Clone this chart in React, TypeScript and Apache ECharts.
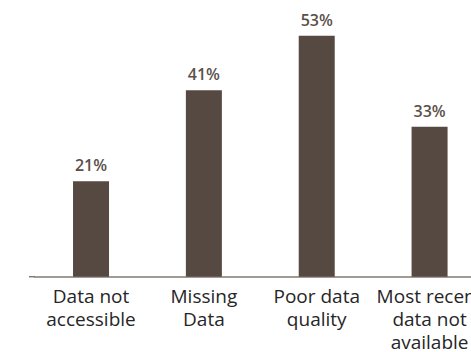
import React, { useEffect, useRef } from "react";
import * as echarts from "echarts";

const categories = [
  "Data not\naccessible",
  "Missing\nData",
  "Poor data\nquality",
  "Most recent\ndata not\navailable",
];
const shares = [21, 41, 53, 33];

const BAR_COLOR = "#564941";
const LABEL_COLOR = "#5b5049";
const AXIS_COLOR = "#857a73";
const FONT = "'Open Sans', 'Noto Sans', sans-serif";

export default function App() {
  const ref = useRef<HTMLDivElement>(null);

  useEffect(() => {
    if (!ref.current) return;
    const chart = echarts.init(ref.current, null, { renderer: "svg" });
    chart.setOption({
      animation: false,
      grid: {
        left: 34.6,
        width: 451.4,
        top: 4,
        height: 272.7,
        containLabel: false,
        outerBoundsMode: "none",
      },
      xAxis: {
        type: "category",
        data: categories,
        axisTick: { show: false },
        axisLine: { show: true, lineStyle: { color: AXIS_COLOR, width: 1.5 } },
        axisLabel: {
          interval: 0,
          color: "#262626",
          fontFamily: FONT,
          fontSize: 19,
          lineHeight: 23,
          margin: 8,
          align: "center",
          hideOverlap: false,
        },
      },
      yAxis: {
        type: "value",
        min: 0,
        max: 60,
        show: false,
        splitLine: { show: false },
      },
      graphic: [
        {
          type: "line",
          shape: { x1: 29, y1: 276.7, x2: 35, y2: 276.7 },
          style: { stroke: AXIS_COLOR, lineWidth: 1.5 },
        },
      ],
      series: [
        {
          type: "bar",
          data: shares,
          barWidth: 36,
          itemStyle: { color: BAR_COLOR },
          label: {
            show: true,
            position: "top",
            distance: 8,
            formatter: "{c}%",
            color: LABEL_COLOR,
            fontFamily: FONT,
            fontSize: 16,
            fontWeight: 600,
          },
        },
      ],
    });
    return () => chart.dispose();
  }, []);

  return (
    <div
      ref={ref}
      style={{ position: "fixed", left: 0, top: 0, width: 471, height: 352, background: "#fff" }}
    />
  );
}
